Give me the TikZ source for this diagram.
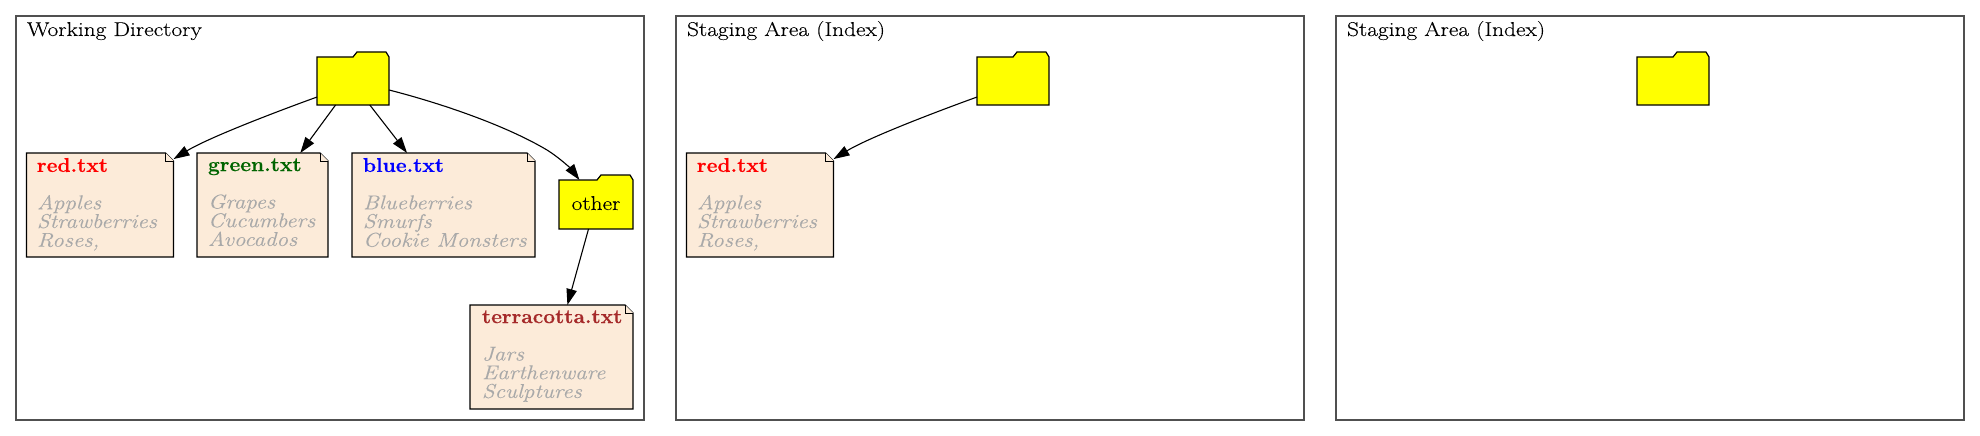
\documentclass[tikz,border=0pt]{standalone}
\usepackage{fontspec}
\setmainfont{Latin Modern Roman}[UprightFeatures={FakeStretch=1.17,FakeBold=0.12},BoldFeatures={FakeStretch=1.05,FakeBold=0.4},ItalicFeatures={FakeStretch=1.15,FakeBold=0.03}]
\usetikzlibrary{arrows.meta,calc}
\definecolor{notefill}{HTML}{FCEBD9}
\definecolor{greytext}{HTML}{A9A9A9}
\definecolor{dkgreen}{HTML}{006400}
\definecolor{brownred}{HTML}{A52A2A}
\definecolor{foldergold}{HTML}{FFFF00}
\definecolor{framegrey}{HTML}{505050}
\definecolor{titlered}{HTML}{FF0000}
\definecolor{titleblue}{HTML}{0000FF}
\tikzset{
  frame/.style={draw=framegrey,line width=1.5pt,inner sep=0pt,outer sep=0pt},
  framelabel/.style={anchor=base west,inner sep=0pt,outer sep=0pt,text=black,font=\fontsize{20}{23}\selectfont},
  boxbase/.style={inner sep=0pt,outer sep=0pt},
  outline/.style={draw=black,line width=1.2pt,line join=miter},
  notetext/.style={anchor=north west,inner sep=0pt,outer sep=0pt,align=left,text=greytext,font=\fontsize{20}{18.7}\selectfont\itshape},
  folderlabel/.style={inner sep=0pt,anchor=base,text=black,font=\fontsize{20}{23}\selectfont},
  conn/.style={draw=black,line width=1.1pt,-{Triangle[length=16pt,width=10.5pt]},shorten >=0pt},
}
\newcommand{\fileNote}[9]{% name x1 y1 x2 y2 textx color title lines
  \node[boxbase,minimum width=#4pt-#2pt,minimum height=#5pt-#3pt] (#1) at ({(#2+#4)/2},{(#3+#5)/2}) {};
  \path[outline,fill=notefill] (#1.north west) -- ($(#1.north east)+(-8,0)$) -- ($(#1.north east)+(0,8)$) -- (#1.south east) -- (#1.south west) -- cycle;
  \path[outline,line width=1pt,fill=notefill] ($(#1.north east)+(-8,0)$) -- ($(#1.north east)+(-8,8)$) -- ($(#1.north east)+(0,8)$);
  \node[notetext] (#1-t) at (#6,{#3+5}) {\strut{\bfseries\upshape\color{#7}#8}\\[0pt]\\[0pt]#9};
}
\newcommand{\folderShape}[6]{% name x1 top x2 bottom label
  \node[boxbase,minimum width=#4pt-#2pt,minimum height=#5pt-#3pt-5pt] (#1) at ({(#2+#4)/2},{(#3+5+#5)/2}) {};
  \path[outline,fill=foldergold] (#1.south west) -- (#1.north west) -- ($(#1.north east)+(-36,0)$) -- ($(#1.north east)+(-32,-5)$) -- ($(#1.north east)+(-3,-5)$) -- (#1.north east) -- (#1.south east) -- cycle;
}
\begin{document}
\begin{tikzpicture}[x=1pt,y=-1pt]
\useasboundingbox (0,0) rectangle (1980,436);
% frames
\node[frame,minimum width=628pt,minimum height=404pt] (frameA) at (330,218) {};
\node[frame,minimum width=628pt,minimum height=404pt] (frameB) at (990,218) {};
\node[frame,minimum width=628pt,minimum height=404pt] (frameC) at (1650,218) {};
\node[framelabel] (labA) at (27,36) {Working Directory};
\node[framelabel] (labB) at (687,36) {Staging Area (Index)};
\node[framelabel] (labC) at (1347,36) {Staging Area (Index)};
% frame A
\folderShape{rootA}{317}{52}{389}{105}{}
\fileNote{redA}{26.5}{153}{173.5}{257}{37}{titlered}{red.txt}{Apples\\[0pt]Strawberries\\[0pt]Roses,}
\fileNote{greenA}{197}{153}{328}{257}{208}{dkgreen}{green.txt}{Grapes\\[0pt]Cucumbers\\[0pt]Avocados}
\fileNote{blueA}{352}{153}{535}{257}{363}{titleblue}{blue.txt}{Blueberries\\[0pt]Smurfs\\[0pt]Cookie Monsters}
\folderShape{otherA}{559}{175}{633}{229}{}
\node[folderlabel] (otherlab) at (596,210) {other};
\fileNote{terraA}{470}{305}{633}{409}{482}{brownred}{terracotta.txt}{Jars\\[0pt]Earthenware\\[0pt]Sculptures}
\draw[conn] (rootA.204) .. controls +(-36,13) and +(36,-22) .. (redA.32);
\draw[conn] (rootA.234.7) -- (greenA.54.2);
\draw[conn] (rootA.305.3) -- (blueA.125.4);
\coordinate (midother) at (547,150);
\draw[conn] (rootA.-14) .. controls (440,103) and (505,125) .. (midother) .. controls (560,158) and (572,170) .. (otherA.124.5);
\draw[conn] (otherA.253.7) -- (terraA.73.4);
% frame B
\folderShape{rootB}{977}{52}{1049}{105}{}
\fileNote{redB}{686.5}{153}{833.5}{257}{697}{titlered}{red.txt}{Apples\\[0pt]Strawberries\\[0pt]Roses,}
\draw[conn] (rootB.204) .. controls +(-36,13) and +(36,-22) .. (redB.32);
% frame C
\folderShape{rootC}{1637}{52}{1709}{105}{}
\end{tikzpicture}
\end{document}
